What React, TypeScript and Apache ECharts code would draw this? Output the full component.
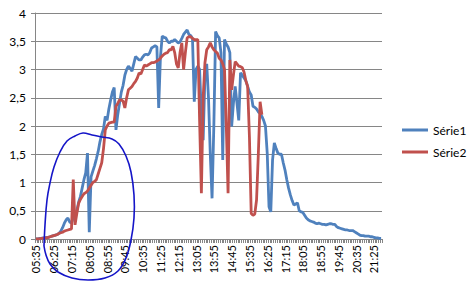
import React, { useEffect, useRef } from "react";
import * as echarts from "echarts";

// categories: 5-minute steps from 05:35 to 21:45
const startMinutes = 5 * 60 + 35;
const categoryCount = 195;
const categories: string[] = [];
for (let k = 0; k < categoryCount; k++) {
  const m = startMinutes + k * 5;
  const h = Math.floor(m / 60);
  const mm = m % 60;
  categories.push(String(h).padStart(2, "0") + ":" + String(mm).padStart(2, "0"));
}

const serie1: number[] = [
  0, 0, 0.01, 0.01, 0.02, 0.02, 0.03, 0.03, 0.04, 0.05,
  0.06, 0.07, 0.08, 0.1, 0.14, 0.2, 0.28, 0.34, 0.37, 0.3,
  0.28, 0.38, 0.45, 0.5, 0.65, 0.75, 0.9, 1.05, 1.17, 1.52,
  0.12, 1.1, 1.2, 1.3, 1.42, 1.55, 1.72, 1.85, 1.95, 2.17,
  2.1, 2.3, 2.46, 2.6, 2.68, 1.93, 2.2, 2.4, 2.6, 2.72,
  2.9, 3.0, 3.06, 3.02, 2.97, 3.1, 3.23, 3.2, 3.17, 3.17,
  3.22, 3.26, 3.27, 3.26, 3.3, 3.38, 3.4, 3.42, 3.4, 2.32,
  3.23, 3.59, 3.57, 3.56, 3.5, 3.47, 3.5, 3.5, 3.53, 3.5,
  3.47, 3.49, 3.55, 3.62, 3.66, 3.7, 3.62, 3.6, 3.55, 2.43,
  3.0, 3.06, 3.0, 2.2, 1.75, 2.9, 3.1, 2.5, 1.5, 0.72,
  2.0, 3.67, 3.6, 3.56, 3.3, 1.4, 3.53, 3.45, 3.4, 3.3,
  1.99, 2.4, 2.7, 2.4, 2.1, 2.94, 2.9, 2.85, 2.8, 2.7,
  2.6, 2.55, 2.35, 2.33, 2.3, 2.25, 2.22, 2.17, 2.1, 2.0,
  1.52, 0.57, 0.48, 1.4, 1.7, 1.6, 1.52, 1.5, 1.5, 1.35,
  1.22, 1.05, 0.9, 0.78, 0.68, 0.6, 0.62, 0.64, 0.5, 0.48,
  0.47, 0.42, 0.37, 0.34, 0.32, 0.31, 0.3, 0.28, 0.27, 0.28,
  0.27, 0.26, 0.26, 0.25, 0.26, 0.27, 0.27, 0.26, 0.26, 0.22,
  0.2, 0.19, 0.18, 0.17, 0.16, 0.16, 0.15, 0.15, 0.15, 0.13,
  0.11, 0.09, 0.07, 0.06, 0.06, 0.05, 0.05, 0.05, 0.04, 0.04,
  0.03, 0.02, 0.02, 0.01, 0.01,
];

const serie2: number[] = [
  0, 0, 0, 0.01, 0.01, 0.02, 0.02, 0.03, 0.04, 0.05,
  0.06, 0.07, 0.08, 0.1, 0.11, 0.12, 0.14, 0.15, 0.16, 0.17,
  0.18, 1.05, 0.25, 0.45, 0.63, 0.7, 0.75, 0.8, 0.82, 0.85,
  0.9, 0.95, 1.0, 1.02, 1.05, 1.15, 1.25, 1.35, 1.6, 1.93,
  2.0, 2.05, 2.06, 2.07, 2.07, 2.35, 2.4, 2.46, 2.46, 2.44,
  2.32, 2.5, 2.64, 2.67, 2.7, 2.75, 2.79, 2.85, 2.94, 2.92,
  3.0, 3.08, 3.06, 3.08, 3.1, 3.12, 3.12, 3.13, 3.15, 3.17,
  3.2, 3.24, 3.27, 3.29, 3.3, 3.35, 3.35, 3.41, 3.3, 3.1,
  3.03, 3.3, 3.47, 3.0, 3.3, 3.56, 3.58, 3.58, 3.55, 3.53,
  3.53, 3.53, 2.1, 0.81, 2.5, 3.12, 3.35, 3.4, 3.47, 3.4,
  3.35, 3.32, 3.29, 3.2, 3.17, 3.1, 3.0, 2.0, 0.81, 3.17,
  2.64, 2.9, 3.14, 3.1, 3.06, 3.05, 3.03, 2.95, 2.8, 2.7,
  1.81, 0.45, 0.42, 0.44, 0.69, 1.5, 2.43, 2.2,
];

const seriesNames = ["Série1", "Série2"];
const seriesColors = ["#4F81BD", "#C0504D"];

// hand-drawn annotation outline (pixel coordinates)
const annotationPoints: number[][] = [
  [44, 246], [45, 225], [47, 200], [50, 183], [54, 167], [60, 152], [67, 141],
  [75, 136], [83, 133], [92, 135], [102, 137], [112, 139], [119, 144], [126, 156],
  [131, 172], [134, 195], [134, 218], [131, 240], [126, 258], [118, 271],
  [105, 278], [88, 280], [72, 278], [58, 272], [50, 264], [46, 255], [44, 246],
];

const FONT = "Lato, 'Open Sans', sans-serif";

export default function App() {
  const ref = useRef<HTMLDivElement>(null);
  useEffect(() => {
    document.body.style.margin = "0";
    if (!ref.current) return;
    const chart = echarts.init(ref.current, null, { renderer: "svg" });
    chart.setOption({
      animation: false,
      backgroundColor: "#ffffff",
      grid: {
        left: 35,
        top: 13,
        width: 347,
        height: 226,
        containLabel: false,
        outerBoundsMode: "none",
      },
      legend: {
        orient: "vertical",
        left: 402,
        top: 124,
        itemWidth: 26,
        itemHeight: 3,
        itemGap: 10,
        padding: 0,
        icon: "path://M0,0 H26 V3 H0 Z",
        textStyle: { fontSize: 12, color: "#000", fontFamily: FONT },
        data: seriesNames,
      },
      xAxis: {
        type: "category",
        data: categories,
        boundaryGap: true,
        axisLine: { lineStyle: { color: "#868686", width: 1 } },
        axisTick: { show: true, interval: 0, length: 4, lineStyle: { color: "#868686" } },
        axisLabel: {
          interval: 9,
          rotate: 90,
          fontSize: 11,
          color: "#000",
          fontFamily: FONT,
          margin: 6,
        },
        splitLine: { show: false },
      },
      yAxis: {
        type: "value",
        min: 0,
        max: 4,
        interval: 0.5,
        axisLine: { show: true, lineStyle: { color: "#868686", width: 1 } },
        axisTick: { show: true, length: 4, lineStyle: { color: "#868686" } },
        axisLabel: {
          fontSize: 12,
          color: "#000",
          fontFamily: FONT,
          margin: 9,
          formatter: (v: number) => String(v).replace(".", ","),
        },
        splitLine: { lineStyle: { color: "#868686", width: 1 } },
      },
      series: seriesNames.map((name, k) => ({
        name,
        type: "line",
        data: k === 0 ? serie1 : serie2,
        symbol: "none",
        showSymbol: false,
        color: seriesColors[k],
        lineStyle: { width: 2.8, color: seriesColors[k] },
      })),
      graphic: [
        {
          type: "polyline",
          z: 100,
          shape: { points: annotationPoints, smooth: 0.4 },
          style: { stroke: "#1515C8", lineWidth: 1.6, fill: "none" },
        },
      ],
    });
    return () => chart.dispose();
  }, []);
  return <div ref={ref} style={{ width: 476, height: 285 }} />;
}
